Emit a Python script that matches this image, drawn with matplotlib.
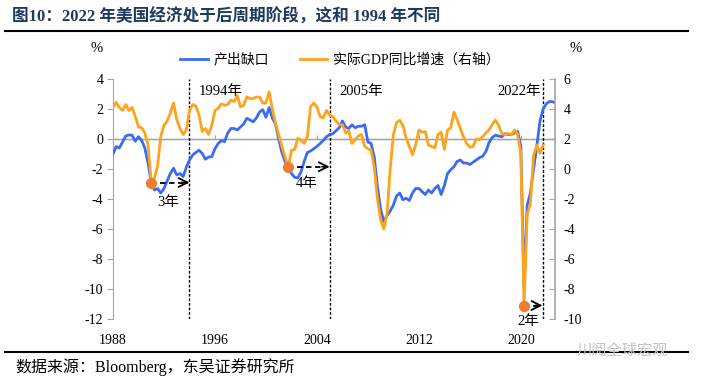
import matplotlib
matplotlib.use("Agg")
import matplotlib.pyplot as plt
import numpy as np

plt.rcParams['font.family'] = ['Liberation Serif', 'Noto Sans CJK SC', 'DejaVu Sans']
plt.rcParams['axes.unicode_minus'] = False

# quarterly data, 1988Q1 onwards
output_gap = [
    -1.0, -0.5, -0.6, -0.2,     # 1988
    0.2, 0.27, 0.25, -0.15,     # 1989
    0.15, -0.1, -0.6, -1.6,     # 1990
    -2.9, -3.4, -3.3, -3.6,     # 1991
    -3.3, -2.8, -2.3, -1.95,    # 1992
    -2.4, -2.3, -2.5, -1.9,     # 1993
    -1.4, -1.07, -0.9, -0.75,   # 1994
    -0.96, -1.35, -1.2, -1.18,  # 1995
    -0.65, -0.3, -0.1, -0.18,   # 1996
    0.4, 0.7, 0.7, 0.6,         # 1997
    0.8, 1.0, 1.38, 1.27,       # 1998
    1.15, 1.4, 1.8, 1.95,       # 1999
    1.45, 2.1, 1.4, 1.0,        # 2000
    0.0, -0.9, -1.5, -1.85,     # 2001
    -2.3, -2.55, -2.6, -2.2,    # 2002
    -1.5, -0.9, -0.8, -0.65,    # 2003
    -0.5, -0.3, -0.1, 0.15,     # 2004
    0.3, 0.35, 0.55, 0.75,      # 2005
    1.2, 0.8, 0.7, 0.95,        # 2006
    0.75, 0.85, 0.85, 0.95,     # 2007
    -0.2, -0.3, -1.2, -3.2,     # 2008
    -4.7, -5.5, -5.1, -4.8,     # 2009
    -4.4, -3.8, -3.6, -4.05,    # 2010
    -3.95, -4.1, -3.6, -3.3,    # 2011
    -3.3, -3.5, -3.7, -3.4,     # 2012
    -3.6, -3.3, -3.1, -3.7,     # 2013
    -3.1, -2.3, -2.05, -1.85,   # 2014
    -1.5, -1.4, -1.6, -1.6,     # 2015
    -1.7, -1.55, -1.4, -1.25,   # 2016
    -1.15, -0.85, -0.25, 0.1,   # 2017
    0.25, 0.2, 0.15, 0.35,      # 2018
    0.3, 0.3, 0.4, 0.5,         # 2019
    -0.5, -9.8, -4.4, -3.6,     # 2020
    -2.0, -0.5, 1.2, 2.0,       # 2021
    2.35, 2.5, 2.48, 2.4,       # 2022
]

gdp_yoy = [
    4.1, 4.45, 4.1, 3.9,        # 1988
    4.3, 3.9, 4.1, 3.5,         # 1989
    2.8, 2.75, 2.4, 1.6,        # 1990
    -0.9, -0.6, 0.2, 2.2,       # 1991
    2.9, 3.2, 3.75, 4.4,        # 1992
    3.3, 2.7, 2.3, 2.6,         # 1993
    3.9, 4.3, 4.2, 3.6,         # 1994
    2.5, 2.7, 2.3, 2.9,         # 1995
    3.9, 4.05, 4.35, 4.25,      # 1996
    4.3, 4.6, 4.5, 4.9,         # 1997
    4.15, 4.25, 4.8, 4.7,       # 1998
    4.7, 4.8, 4.8, 4.4,         # 1999
    4.4, 5.15, 4.0, 3.05,       # 2000
    2.3, 1.5, 0.8, 0.15,        # 2001
    1.25, 1.3, 2.05, 1.9,       # 2002
    1.7, 2.15, 4.15, 4.4,       # 2003
    4.15, 3.5, 3.4, 3.9,        # 2004
    3.6, 3.5, 3.2, 2.95,        # 2005
    2.95, 2.4, 2.55, 1.7,       # 2006
    1.95, 2.2, 2.3, 1.5,        # 2007
    1.35, 1.25, 0.1, -2.0,      # 2008
    -3.4, -4.0, -3.0, 0.0,      # 2009
    2.3, 3.1, 3.25, 2.9,        # 2010
    2.05, 1.5, 0.95, 1.6,       # 2011
    2.6, 2.45, 2.5, 1.6,        # 2012
    1.5, 1.4, 2.3, 2.45,        # 2013
    1.3, 2.6, 2.75, 3.8,        # 2014
    3.3, 2.7, 2.15, 1.7,        # 2015
    1.45, 1.5, 2.0, 1.95,       # 2016
    2.15, 2.4, 2.6, 2.95,       # 2017
    3.27, 2.93, 2.38, 2.27,     # 2018
    2.38, 2.27, 2.6, 2.3,       # 2019
    1.0, -9.1, -3.0, -2.3,      # 2020
    0.9, 1.6, 1.05, 1.6,        # 2021
]

year_ticks = [1988, 1996, 2004, 2012, 2020]
cycle_start = [1991.0, 2001.75, 2020.25]
cycle_end = [1994.0, 2005.0, 2021.7]
cycle_len = ['3年', '4年', '2年']
cycle_names = ['1994年', '2005年', '2022年']

t_gap = 1988 + np.arange(len(output_gap)) / 4
t_gdp = 1988 + np.arange(len(gdp_yoy)) / 4
gdp_arr = np.array(gdp_yoy)

blue = '#3A6BF5'
orange = '#FFA31A'
dot_color = '#EE7D31'
grey = '#A6A6A6'

fig = plt.figure(figsize=(7.25, 3.87), dpi=100)
ax = fig.add_axes([113 / 725, 1 - 319 / 387, 442 / 725, 240 / 387])
ax2 = ax.twinx()

ax.plot(t_gap, output_gap, color=blue, lw=2, label='产出缺口', zorder=3)
ax2.plot(t_gdp, gdp_yoy, color=orange, lw=2, label='实际GDP同比增速（右轴）', zorder=3)

ax.axhline(0, color=grey, lw=1, zorder=1)
for x in cycle_end:
    ax.axvline(x, color='black', lw=1, linestyle=(0, (2, 1.3)), zorder=2)

# cycle markers on the GDP series
for s, e, lab in zip(cycle_start, cycle_end, cycle_len):
    y = gdp_arr[int(round((s - 1988) * 4))]
    ax2.plot([s, e - 0.15], [y, y], color='black', lw=1.3, linestyle=(0, (3, 2)), zorder=4)
    ax2.annotate('', xy=(e, y), xytext=(e - 0.6, y),
                 arrowprops=dict(arrowstyle='->', color='black', lw=1.3,
                                 mutation_scale=16, shrinkA=0, shrinkB=0), zorder=4)
    ax2.scatter([s], [y], s=50, color=dot_color, zorder=5, clip_on=False)

ax.text(1992.3, -4.25, '3年', fontsize=10.5, ha='center', va='center')
ax.text(2003.2, -2.95, '4年', fontsize=10.5, ha='center', va='center')
ax.text(2020.6, -12.2, '2年', fontsize=10.5, ha='center', va='center')
ax.text(1994.7, 3.2, cycle_names[0], fontsize=10.5, ha='left', va='center')
ax.text(2005.8, 3.2, cycle_names[1], fontsize=10.5, ha='left', va='center')
ax.text(2021.6, 3.2, cycle_names[2], fontsize=10.5, ha='right', va='center')

ax.set_xlim(1988, 2022.68)
ax.set_ylim(-12, 4)
ax2.set_ylim(-10, 6)
ax.set_yticks(np.arange(-12, 5, 2))
ax2.set_yticks(np.arange(-10, 7, 2))
ax.set_xticks(year_ticks)
ax.set_xticklabels([str(y) for y in year_ticks])

for a in (ax, ax2):
    a.spines['top'].set_visible(False)
    a.spines['bottom'].set_visible(False)
ax.spines['right'].set_visible(False)
ax2.spines['left'].set_visible(False)
ax.spines['left'].set_color(grey)
ax2.spines['right'].set_color(grey)
ax2.spines['right'].set_linewidth(1.2)

ax.tick_params(axis='y', colors=grey, labelcolor='black', labelsize=10, length=4, pad=3)
ax2.tick_params(axis='y', colors=grey, labelcolor='black', labelsize=10,
                direction='in', length=4, pad=6)
ax.tick_params(axis='x', length=0, labelsize=10, pad=11)

# small x ticks sitting on the zero line
sec = ax.secondary_xaxis(0.75)
sec.set_xticks(year_ticks[1:])
sec.tick_params(axis='x', colors=grey, length=3, direction='out', labelbottom=False)
sec.spines['bottom'].set_visible(False)
for lbl in sec.get_xticklabels():
    lbl.set_visible(False)

h1, l1 = ax.get_legend_handles_labels()
h2, l2 = ax2.get_legend_handles_labels()
fig.legend(h1 + h2, l1 + l2, loc='center', bbox_to_anchor=(340 / 725, 1 - 60 / 387),
           ncol=2, frameon=False, fontsize=10, handlelength=2.0, columnspacing=2.2,
           handletextpad=0.4)

fig.text(97 / 725, 1 - 48 / 387, '%', fontsize=10.5, ha='center', va='center')
fig.text(576 / 725, 1 - 48 / 387, '%', fontsize=10.5, ha='center', va='center')

fig.text(12 / 725, 1 - 17 / 387, '图10：2022 年美国经济处于后周期阶段，这和 1994 年不同',
         fontsize=12, fontweight='bold', color='#1F3A5F', ha='left', va='center')
fig.add_artist(plt.Line2D([5 / 725, 688 / 725], [1 - 31 / 387] * 2, color='black', lw=1.5))
fig.add_artist(plt.Line2D([5 / 725, 688 / 725], [1 - 352 / 387] * 2, color='black', lw=1.5))
fig.text(15 / 725, 1 - 367 / 387, '数据来源：Bloomberg，东吴证券研究所',
         fontsize=11.5, ha='left', va='center')
fig.text(622 / 725, 1 - 350 / 387, '川阅全球宏观', fontsize=11, color='#C4C4C4',
         ha='center', va='center')

fig.savefig('out.png', dpi=100)
